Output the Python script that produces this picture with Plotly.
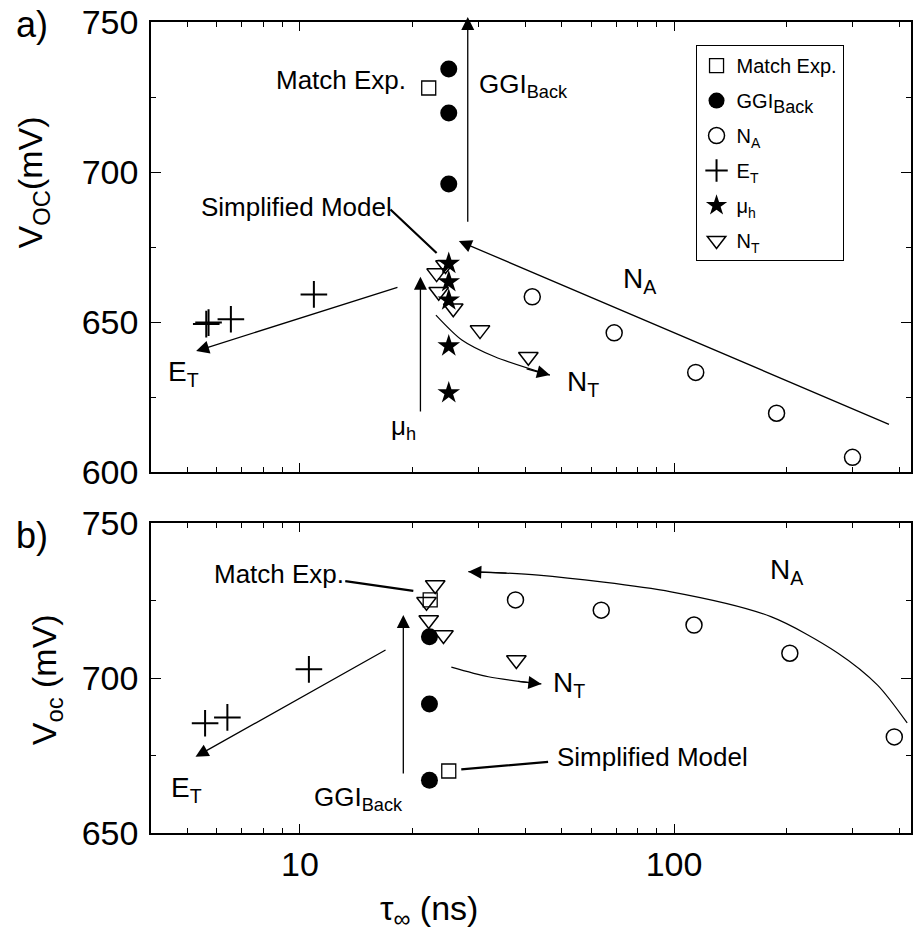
import numpy as np
import plotly.graph_objects as go

FONT = "Liberation Sans, Arial, sans-serif"

# ---------------- panel (a) ----------------
a_match_tau = [22.1]
a_match_voc = [728.0]
a_ggi_tau = [25.0, 25.0, 25.0]
a_ggi_voc = [734.3, 719.7, 696.0]
a_na_tau = [41.8, 69.2, 114.3, 188.0, 300.0]
a_na_voc = [658.4, 646.4, 633.2, 619.6, 604.9]
a_et_tau = [5.62, 5.70, 6.54, 10.9]
a_et_voc = [649.3, 649.8, 650.9, 659.2]
a_mu_tau = [25.0, 25.0, 25.0, 25.0, 25.0]
a_mu_voc = [669.5, 663.4, 657.3, 642.0, 626.4]
a_nt_tau = [24.5, 23.2, 23.5, 25.7, 30.3, 40.8]
a_nt_voc = [669.0, 666.3, 660.1, 654.6, 647.3, 638.4]

# ---------------- panel (b) ----------------
b_match_tau = [22.3]
b_match_voc = [725.2]
b_simple_tau = [25.0]
b_simple_voc = [670.0]
b_ggi_tau = [22.2, 22.2, 22.2]
b_ggi_voc = [713.3, 691.6, 667.0]
b_na_tau = [37.7, 63.9, 113.1, 204.0, 388.0]
b_na_voc = [725.2, 721.9, 717.1, 708.0, 681.0]
b_et_tau = [5.58, 6.4, 10.57]
b_et_voc = [685.4, 687.3, 702.8]
b_nt_tau = [23.0, 21.8, 22.1, 24.2, 37.9]
b_nt_voc = [730.0, 724.6, 718.7, 713.9, 705.8]

# guide curves (trend arrows)
a_ntcurve_tau = [23.1, 27.1, 33.2, 46.6]
a_ntcurve_voc = [652.3, 644.0, 638.4, 632.3]
b_ntcurve_tau = [25.4, 31.9, 44.2]
b_ntcurve_voc = [703.5, 700.4, 698.1]
b_nacurve_tau = [420.0, 350.0, 273.8, 181.5, 98.2, 43.4, 28.2]
b_nacurve_voc = [685.5, 697.7, 708.1, 719.8, 727.8, 733.2, 734.3]

series_style = {
    "match": dict(symbol="square-open", size=14, color="black", line=dict(width=1.3, color="black")),
    "ggi": dict(symbol="circle", size=17, color="black"),
    "na": dict(symbol="circle-open", size=16, color="black", line=dict(width=1.5, color="black")),
    "et": dict(symbol="cross-thin", size=19, color="black", line=dict(width=2, color="black")),
    "mu": dict(symbol="star", size=17, color="black"),
    "nt": dict(symbol="triangle-down-open", size=17, color="black", line=dict(width=1.5, color="black")),
}

fig = go.Figure()

names = {
    "match": "Match Exp.",
    "ggi": "GGI<sub><span style='font-size:18px'>Back</span></sub>",
    "na": "N<sub>A</sub>",
    "et": "E<sub>T</sub>",
    "mu": "μ<sub>h</sub>",
    "nt": "N<sub>T</sub>",
}

# guide curves first so markers sit on top
for tx, vy, xa, ya in [(a_ntcurve_tau, a_ntcurve_voc, "x", "y"),
                       (b_ntcurve_tau, b_ntcurve_voc, "x2", "y2"),
                       (b_nacurve_tau, b_nacurve_voc, "x2", "y2")]:
    fig.add_trace(go.Scatter(x=tx, y=vy, xaxis=xa, yaxis=ya, mode="lines",
                             line=dict(color="black", width=1.2, shape="spline", smoothing=0.8),
                             showlegend=False, hoverinfo="skip"))

a_sets = [("match", a_match_tau, a_match_voc), ("ggi", a_ggi_tau, a_ggi_voc),
          ("na", a_na_tau, a_na_voc), ("et", a_et_tau, a_et_voc),
          ("mu", a_mu_tau, a_mu_voc), ("nt", a_nt_tau, a_nt_voc)]
for i, (key, tx, vy) in enumerate(a_sets):
    fig.add_trace(go.Scatter(x=tx, y=vy, xaxis="x", yaxis="y", mode="markers",
                             marker=series_style[key], name=names[key],
                             legendgroup=key, legendrank=i + 1))

b_sets = [("match", b_match_tau, b_match_voc), ("match", b_simple_tau, b_simple_voc),
          ("ggi", b_ggi_tau, b_ggi_voc), ("na", b_na_tau, b_na_voc),
          ("et", b_et_tau, b_et_voc), ("nt", b_nt_tau, b_nt_voc)]
for key, tx, vy in b_sets:
    fig.add_trace(go.Scatter(x=tx, y=vy, xaxis="x2", yaxis="y2", mode="markers",
                             marker=series_style[key], name=names[key],
                             showlegend=False))

L = np.log10
HEAD = 2.0


def arrow(tip, tail, xref="x", yref="y", head=2, width=1.3):
    return dict(x=L(tip[0]), y=tip[1], ax=L(tail[0]), ay=tail[1],
                xref=xref, yref=yref, axref=xref, ayref=yref, text="",
                showarrow=True, arrowhead=head, arrowsize=HEAD,
                arrowwidth=width, arrowcolor="black")


def label(text, tau, voc, xref="x", yref="y", size=27, xanchor="left"):
    return dict(x=L(tau), y=voc, xref=xref, yref=yref, text=text, showarrow=False,
                xanchor=xanchor, yanchor="middle",
                font=dict(family=FONT, size=size, color="black"))


def paper_text(text, x, y, size, angle=0):
    return dict(x=x, y=y, xref="paper", yref="paper", text=text, textangle=angle,
                xanchor="center", yanchor="middle", showarrow=False,
                font=dict(family=FONT, size=size, color="black"))


ann = [
    # panel (a) arrows
    dict(x=L(28.1), y=1.011, ax=L(28.1), ay=0.553, xref="x", yref="y domain",
         axref="x", ayref="y domain", text="", showarrow=True, arrowhead=2,
         arrowsize=HEAD, arrowwidth=1.3, arrowcolor="black"),
    arrow((26.6, 677.0), (379.0, 615.7)),
    arrow((5.28, 640.3), (18.4, 661.7)),
    arrow((21.0, 665.1), (21.0, 619.7)),
    arrow((a_ntcurve_tau[-1], a_ntcurve_voc[-1]), (40.0, 634.5)),
    arrow((23.2, 673.0), (17.3, 688.0), head=0, width=2.2),
    # panel (a) labels
    label("Match Exp.", 19.5, 730.7, size=26, xanchor="right"),
    label("GGI<sub>Back</sub>", 29.7, 729.0, size=26),
    label("Simplified Model", 17.8, 688.3, size=26, xanchor="right"),
    label("N<sub>A</sub>", 72.3, 664.0, size=28),
    label("N<sub>T</sub>", 51.2, 629.5, size=28),
    label("E<sub>T</sub>", 4.39, 633.0, size=28),
    label("μ<sub>h</sub>", 17.3, 615.0, size=26),
    # panel (b) arrows
    arrow((18.9, 720.3), (18.9, 668.7), "x2", "y2"),
    arrow((5.26, 674.6), (17.1, 709.3), "x2", "y2"),
    arrow((b_ntcurve_tau[-1], b_ntcurve_voc[-1]), (38.0, 699.0), "x2", "y2"),
    arrow((b_nacurve_tau[-1], b_nacurve_voc[-1]), (36.0, 733.8), "x2", "y2"),
    arrow((20.1, 728.1), (13.1, 731.3), "x2", "y2", head=0, width=2.2),
    arrow((27.0, 670.5), (46.5, 673.0), "x2", "y2", head=0, width=2.2),
    # panel (b) labels
    label("Match Exp.", 13.3, 733.5, "x2", "y2", size=26, xanchor="right"),
    label("N<sub>A</sub>", 178.0, 734.5, "x2", "y2", size=28),
    label("N<sub>T</sub>", 47.0, 698.0, "x2", "y2", size=28),
    label("E<sub>T</sub>", 4.48, 664.0, "x2", "y2", size=28),
    label("GGI<sub>Back</sub>", 10.77, 661.0, "x2", "y2", size=26),
    label("Simplified Model", 48.0, 674.6, "x2", "y2", size=26),
    # axis titles and panel tags
    paper_text("V<sub>OC</sub>(mV)", -0.156, 0.8027, 34, -90),
    paper_text("V<sub>oc</sub> (mV)", -0.1365, 0.1887, 34, -90),
    paper_text("τ<sub>∞</sub> (ns)", 0.366, -0.095, 34),
    paper_text("a)", -0.157, 0.9975, 36),
    paper_text("b)", -0.156, 0.3674, 36),
]

tickfont = dict(family=FONT, size=34, color="black")
xaxis_common = dict(
    type="log", range=[L(4), L(430)], showline=True, linecolor="black", linewidth=1.5,
    mirror="allticks", ticks="inside", ticklen=9, tickwidth=1.3, tickcolor="black",
    tickvals=[10, 100], ticktext=["10", "100"], showgrid=False, zeroline=False,
    minor=dict(tickvals=[5, 6, 7, 8, 9, 20, 30, 40, 50, 60, 70, 80, 90, 200, 300, 400],
               ticks="inside", ticklen=5, tickwidth=1.3, tickcolor="black", showgrid=False),
    tickfont=tickfont,
)
yaxis_common = dict(
    showline=True, linecolor="black", linewidth=1.5, mirror="allticks", ticks="inside",
    ticklen=10, tickwidth=1.3, tickcolor="black", showgrid=False, zeroline=False,
    tickfont=tickfont, ticklabelstandoff=4,
)

fig.update_layout(
    width=915, height=939, margin=dict(l=151, r=2, t=22, b=106),
    paper_bgcolor="white", plot_bgcolor="white",
    font=dict(family=FONT, color="black"),
    xaxis=dict(xaxis_common, anchor="y", showticklabels=False),
    xaxis2=dict(xaxis_common, anchor="y2"),
    yaxis=dict(yaxis_common, domain=[0.4451, 1], range=[600, 750], anchor="x",
               tickvals=[600, 650, 700, 750],
               minor=dict(tickvals=[625, 675, 725], ticks="inside", ticklen=5,
                          tickwidth=1.3, tickcolor="black", showgrid=False)),
    yaxis2=dict(yaxis_common, domain=[0, 0.3822], range=[650, 750], anchor="x2",
                tickvals=[650, 700, 750],
                minor=dict(tickvals=[675, 725], ticks="inside", ticklen=5,
                           tickwidth=1.3, tickcolor="black", showgrid=False)),
    legend=dict(x=0.7165, y=0.9716, xanchor="left", yanchor="top",
                bordercolor="black", borderwidth=1, bgcolor="white",
                font=dict(family=FONT, size=20, color="black"),
                traceorder="grouped", tracegroupgap=6),
    annotations=ann,
    showlegend=True,
)

fig.write_html("out.html")
